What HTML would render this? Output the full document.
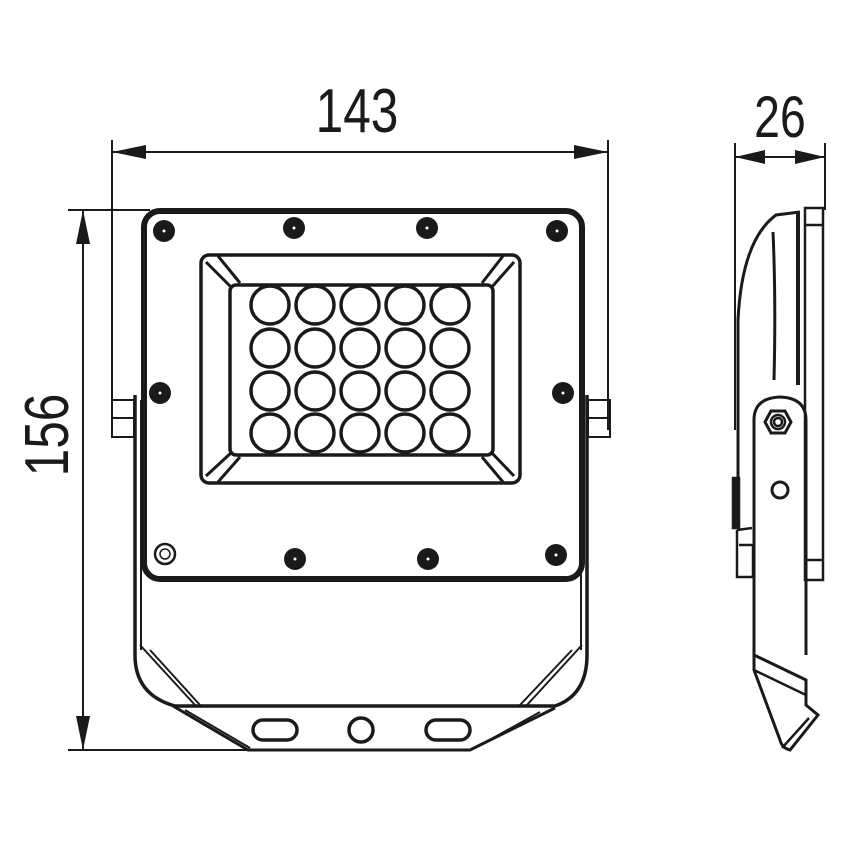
<!DOCTYPE html>
<html><head><style>body{margin:0;background:#fff}svg{display:block}text{font-family:"Liberation Sans",sans-serif;fill:#1a1a1a}</style></head>
<body>
<svg width="850" height="850" viewBox="0 0 850 850" xmlns="http://www.w3.org/2000/svg">
<defs>
<marker id="ar" viewBox="0 0 10 10" refX="10" refY="5" markerWidth="10" markerHeight="10" orient="auto-start-reverse" markerUnits="userSpaceOnUse"><path d="M0,0 L10,5 L0,10" fill="none"/></marker>
</defs>
<g stroke="#1a1a1a" fill="none" stroke-width="2">
<!-- dimension lines -->
<line x1="112" y1="140" x2="112" y2="410"/>
<line x1="608" y1="140" x2="608" y2="430"/>
<line x1="112" y1="152" x2="608" y2="152"/>
<path d="M112,152 l34,-7 v14 z M608,152 l-34,-7 v14 z" fill="#1a1a1a" stroke="none"/>
<line x1="68" y1="210" x2="150" y2="210"/>
<line x1="68" y1="750" x2="250" y2="750"/>
<line x1="83" y1="210" x2="83" y2="750"/>
<path d="M83,210 l-7,34 h14 z M83,750 l-7,-34 h14 z" fill="#1a1a1a" stroke="none"/>
<line x1="735" y1="143" x2="735" y2="430"/>
<line x1="825" y1="143" x2="825" y2="210"/>
<line x1="735" y1="157" x2="825" y2="157"/>
<path d="M735,157 l30,-7 v14 z M825,157 l-30,-7 v14 z" fill="#1a1a1a" stroke="none"/>

<!-- tabs -->
<rect x="112" y="400" width="22" height="18"/><rect x="112" y="418" width="22" height="19"/>
<rect x="588" y="400" width="22" height="18"/><rect x="588" y="418" width="22" height="19"/>

<!-- lower bracket body -->
<path d="M135,395 V655 Q135,695 175,706 H555 Q587,695 587,655 V395" stroke-width="3.5"/>
<path d="M141,400 V650"/><path d="M581,400 V650"/>
<path d="M140,645 L195,705"/><path d="M150,650 L200,705"/>
<path d="M582,645 L527,705"/><path d="M572,650 L520,705"/>
<path d="M173,706 L248,750 H470 L555,708" stroke-width="3"/>
<path d="M185,710 L250,748"/><path d="M540,712 L475,748"/>
<rect x="253" y="720" width="44" height="20" rx="10" stroke-width="3.5"/>
<rect x="426" y="720" width="44" height="20" rx="10" stroke-width="3.5"/>
<circle cx="361" cy="730" r="12" stroke-width="3.5"/>

<!-- frame -->
<rect x="144" y="211" width="438" height="368" rx="16" fill="#fff" stroke-width="6"/>
<!-- bezel -->
<rect x="201" y="255" width="319" height="228" rx="8" stroke-width="3.5"/>
<rect x="230" y="285" width="263" height="170" rx="6" stroke-width="3.5"/>
<path d="M206,262 L232,288 M218,256 L240,283 M514,262 L491,288 M503,256 L482,283 M206,476 L232,452 M218,482 L240,457 M514,476 L491,452 M503,482 L482,457" stroke-width="3"/>
<g stroke-width="3.5">
<circle cx="270" cy="305" r="19"/><circle cx="315" cy="305" r="19"/><circle cx="360" cy="305" r="19"/><circle cx="405" cy="305" r="19"/><circle cx="450" cy="305" r="19"/>
<circle cx="270" cy="348" r="19"/><circle cx="315" cy="348" r="19"/><circle cx="360" cy="348" r="19"/><circle cx="405" cy="348" r="19"/><circle cx="450" cy="348" r="19"/>
<circle cx="270" cy="391" r="19"/><circle cx="315" cy="391" r="19"/><circle cx="360" cy="391" r="19"/><circle cx="405" cy="391" r="19"/><circle cx="450" cy="391" r="19"/>
<circle cx="270" cy="433" r="19"/><circle cx="315" cy="433" r="19"/><circle cx="360" cy="433" r="19"/><circle cx="405" cy="433" r="19"/><circle cx="450" cy="433" r="19"/>
</g>
</g>
<g fill="#1a1a1a">
<circle cx="164" cy="231" r="11"/><circle cx="294" cy="228" r="11"/><circle cx="427" cy="228" r="11"/><circle cx="557" cy="231" r="11"/>
<circle cx="160" cy="393" r="11"/><circle cx="563" cy="393" r="11"/>
<circle cx="295" cy="559" r="11"/><circle cx="428" cy="559" r="11"/><circle cx="556" cy="555" r="11"/>
</g>
<circle cx="165" cy="554" r="10" fill="none" stroke="#1a1a1a" stroke-width="2.5"/><circle cx="165" cy="554" r="5" fill="none" stroke="#1a1a1a" stroke-width="1.5"/>
<g fill="#fff"><circle cx="164" cy="231" r="1.5"/><circle cx="294" cy="228" r="1.5"/><circle cx="427" cy="228" r="1.5"/><circle cx="557" cy="231" r="1.5"/><circle cx="160" cy="393" r="1.5"/><circle cx="563" cy="393" r="1.5"/><circle cx="295" cy="559" r="1.5"/><circle cx="428" cy="559" r="1.5"/><circle cx="556" cy="555" r="1.5"/></g>

<!-- side view -->
<g stroke="#1a1a1a" fill="none" stroke-width="2.5">
<rect x="805" y="208" width="18" height="372"/>
<line x1="805" y1="225" x2="823" y2="225"/><line x1="805" y1="560" x2="823" y2="560"/>
<path d="M800,212 L776,215 Q742,240 738,320 V525" stroke-width="3"/>
<path d="M773,232 Q776,300 774,380" stroke-width="3"/>
<path d="M798,212 V385" stroke-width="4"/>
<rect x="733" y="478" width="6" height="50" fill="#1a1a1a"/>
<path d="M737,530 L752,528 M739,545 L753,545 V577 H737 V530"/>
<path d="M754,655 V420 Q754,398 780,397 Q806,398 806,420 V655" stroke-width="3"/>
<path d="M754,655 L806,680 L806,705 L818,715 L790,750 Q782,748 780,740 L754,670 Z" stroke-width="3"/>
<path d="M754,670 L806,695 M782,748 L809,718"/>
<polygon points="771,411 785,411 791,422 785,433 771,433 765,422" stroke-width="3"/>
<circle cx="778" cy="422" r="7"/><circle cx="778" cy="422" r="4"/>
<circle cx="780" cy="490" r="8" stroke-width="3"/>
</g>

<text x="357" y="132" font-size="62" text-anchor="middle" transform="translate(357 0) scale(0.8 1) translate(-357 0)">143</text>
<text x="780" y="137" font-size="58" text-anchor="middle" transform="translate(780 0) scale(0.8 1) translate(-780 0)">26</text>
<text x="0" y="0" font-size="62" text-anchor="middle" transform="translate(68 435) rotate(-90) scale(0.8 1)">156</text>
</svg>
</body></html>
